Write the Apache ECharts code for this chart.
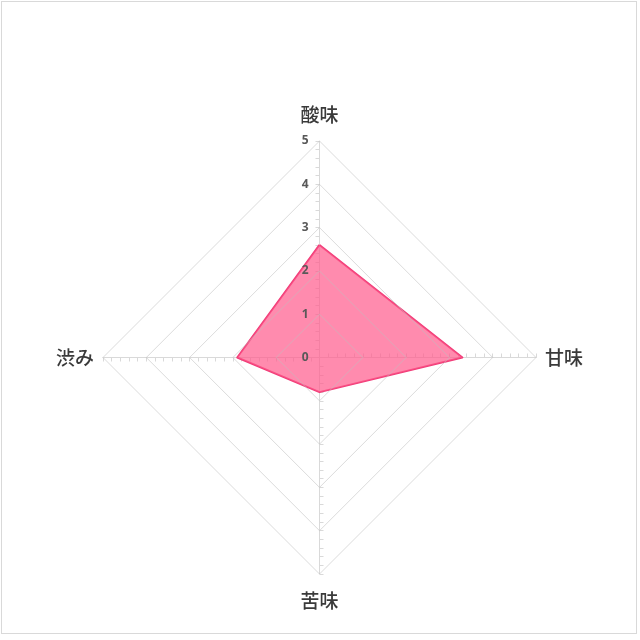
<!DOCTYPE html>
<html><head><meta charset="utf-8">
<script src="https://cdn.jsdelivr.net/npm/echarts@6/dist/echarts.min.js"></script>
<style>
html,body{margin:0;padding:0;background:#fff;}
#frame{position:absolute;left:1px;top:1px;width:634px;height:631px;border:1px solid #d9d9d9;}
#c{position:absolute;left:0;top:0;width:640px;height:640px;}
</style></head>
<body><div id="frame"></div><div id="c"></div>
<script>
// indicators listed counterclockwise from top (ECharts order)
const indicatorNames = ['酸味', '渋み', '苦味', '甘味'];
const maxValue = 5;
const tasteValues = [2.6, 1.9, 0.8, 3.3];

const chart = echarts.init(document.getElementById('c'));
const center = [319.5, 357.5];
const radius = 216.5;
chart.setOption({
  animation: false,
  radar: [
    {
      center: center, radius: radius, shape: 'polygon', startAngle: 90,
      splitNumber: 25,
      indicator: indicatorNames.map(n => ({ name: n, min: 0, max: maxValue })),
      axisName: { show: false },
      axisLine: { show: true, lineStyle: { color: '#d9d9d9', width: 1 } },
      axisTick: { show: true, length: 4, lineStyle: { color: '#d9d9d9', width: 1 } },
      axisLabel: { show: false },
      splitLine: { show: false },
      splitArea: { show: false }
    },
    {
      z: 5,
      center: center, radius: radius, shape: 'polygon', startAngle: 90,
      splitNumber: 5,
      indicator: indicatorNames.map((n, i) => (i === 0
        ? { name: n, min: 0, max: maxValue, axisLabel: { show: true } }
        : { name: n, min: 0, max: maxValue })),
      nameGap: 9,
      axisName: { color: '#3a3a3a', fontSize: 19, fontWeight: 500, fontFamily: 'Noto Sans CJK JP', padding: [8, 0, 8, 0] },
      axisLine: { show: false },
      axisTick: { show: false },
      axisLabel: { show: false, color: '#595959', fontSize: 12, fontWeight: 'bold', fontFamily: 'Open Sans', margin: 11 },
      splitLine: { show: true, lineStyle: { color: 'rgba(190,190,190,0.55)', width: 1 } },
      splitArea: { show: false }
    }
  ],
  series: [{
    type: 'radar',
    radarIndex: 1,
    symbol: 'none',
    data: [{
      value: tasteValues,
      lineStyle: { color: '#F03C78', width: 2 },
      areaStyle: { color: '#FF5A8C', opacity: 0.7 }
    }]
  }]
});
</script></body></html>
